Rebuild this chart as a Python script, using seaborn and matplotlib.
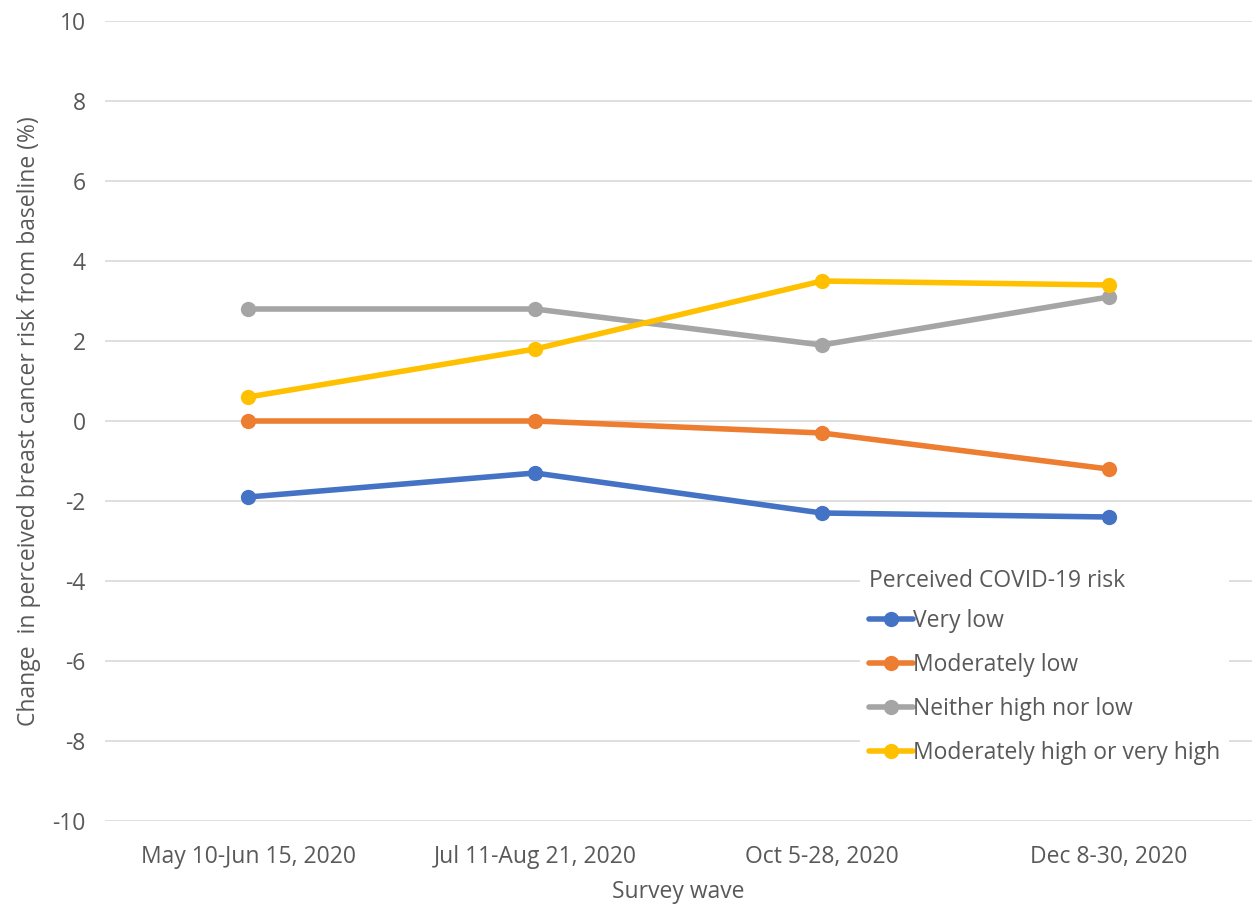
import matplotlib
matplotlib.use("Agg")
import matplotlib.pyplot as plt
import seaborn as sns
import pandas as pd

waves = ["May 10-Jun 15, 2020", "Jul 11-Aug 21, 2020", "Oct 5-28, 2020", "Dec 8-30, 2020"]
groups = ["Very low", "Moderately low", "Neither high nor low", "Moderately high or very high"]
very_low = [-1.9, -1.3, -2.3, -2.4]
moderately_low = [0.0, 0.0, -0.3, -1.2]
neither = [2.8, 2.8, 1.9, 3.1]
mod_high = [0.6, 1.8, 3.5, 3.4]
colors = ["#4472C4", "#ED7D31", "#A5A5A5", "#FFC000"]

rows = []
for g, vals in zip(groups, [very_low, moderately_low, neither, mod_high]):
    for i, (w, v) in enumerate(zip(waves, vals)):
        rows.append({"wave": w, "x": i, "value": v, "group": g})
df = pd.DataFrame(rows)

sns.set_theme(style="white")
plt.rcParams["font.family"] = ["Open Sans", "DejaVu Sans"]
plt.rcParams["axes.unicode_minus"] = False
txt = "#595959"
fs = 16.5

fig = plt.figure(figsize=(12.55, 9.09), dpi=100)
ax = fig.add_axes([105/1255, 1-821/909, (1252-105)/1255, (821-21)/909])

sns.lineplot(data=df, x="x", y="value", hue="group", hue_order=groups,
             palette=colors, marker="o", markersize=11, markeredgewidth=0,
             linewidth=4, ax=ax, sort=False)

ax.set_xlim(-0.5, 3.5)
ax.set_ylim(-10, 10)
ax.set_yticks(range(-10, 11, 2))
ax.set_xticks(range(4))
ax.set_xticklabels(waves)
ax.grid(axis="y", color="#D9D9D9", linewidth=1.2)
ax.set_axisbelow(True)
for s in ax.spines.values():
    s.set_visible(False)
ax.tick_params(axis="x", length=0, labelsize=fs, colors=txt, pad=17)
ax.tick_params(axis="y", length=0, labelsize=fs, colors=txt, pad=14)
ax.set_xlabel("Survey wave", fontsize=fs, color=txt, labelpad=8)
ax.set_ylabel("Change  in perceived breast cancer risk from baseline (%)", fontsize=fs, color=txt, labelpad=8)

leg = ax.legend(title="Perceived COVID-19 risk", loc="upper left",
                bbox_to_anchor=((860-105)/1147, (821-560)/800),
                frameon=True, facecolor="white", edgecolor="none", framealpha=1,
                fontsize=fs, title_fontsize=fs, labelspacing=0.87,
                handlelength=1.9, handletextpad=0.0, borderaxespad=0)
leg._legend_box.align = "left"
leg._legend_box.sep = 0.87 * fs - 3.0
leg.get_title().set_color(txt)
for t in leg.get_texts():
    t.set_color(txt)

fig.savefig("out.png", dpi=100)
